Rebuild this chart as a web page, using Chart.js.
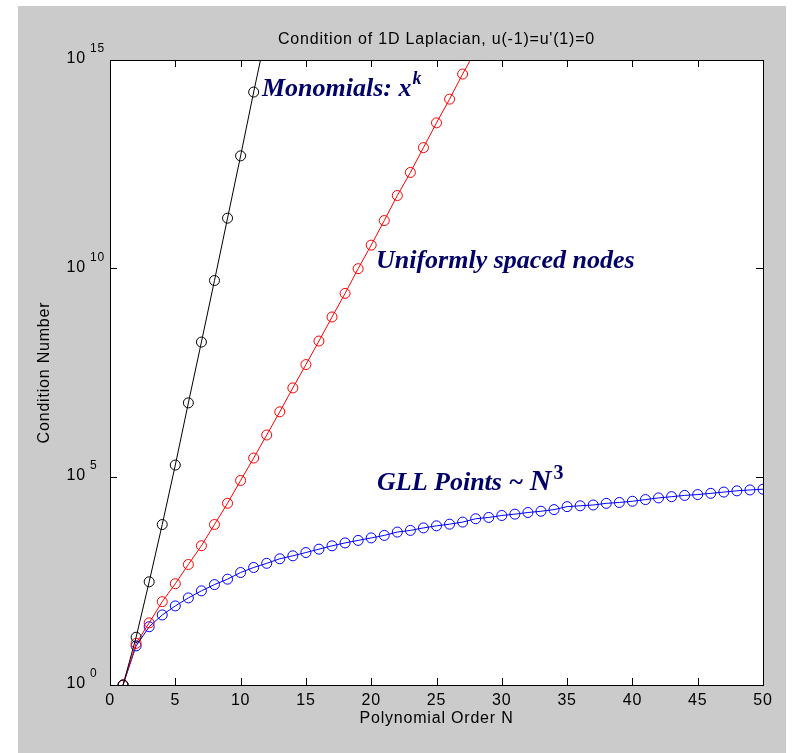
<!DOCTYPE html>
<html>
<head>
<meta charset="utf-8">
<title>Condition of 1D Laplacian</title>
<script src="https://cdn.jsdelivr.net/npm/chart.js@4/dist/chart.umd.min.js"></script>
<style>
    html, body { margin: 0; padding: 0; background: #ffffff; }
    #wrap { width: 793px; height: 753px; position: relative; }
</style>
</head>
<body>
<div id="wrap"><canvas id="condChart"></canvas></div>
<script>
// Polynomial order N for each curve
var monoN = [1, 2, 3, 4, 5, 6, 7, 8, 9, 10, 11, 12];
var uniformN = [1, 2, 3, 4, 5, 6, 7, 8, 9, 10, 11, 12, 13, 14, 15, 16, 17, 18, 19, 20,
    21, 22, 23, 24, 25, 26, 27, 28];
var gllN = [1, 2, 3, 4, 5, 6, 7, 8, 9, 10, 11, 12, 13, 14, 15, 16, 17, 18, 19, 20,
    21, 22, 23, 24, 25, 26, 27, 28, 29, 30, 31, 32, 33, 34, 35, 36, 37, 38, 39, 40,
    41, 42, 43, 44, 45, 46, 47, 48, 49, 50];

// Condition numbers
var monoCond = [1, 14, 3.0e2, 7.1e3, 1.9e5, 5.9e6, 1.7e8, 5.1e9, 1.6e11, 5.0e12, 1.7e14, 5.0e15];
var uniformCond = [1, 10, 31, 1.0e2, 2.7e2, 7.8e2, 2.2e3, 7.1e3, 2.3e4, 8.1e4, 2.8e5, 1.0e6,
    3.6e6, 1.35e7, 4.9e7, 1.8e8, 6.8e8, 2.5e9, 9.8e9, 3.6e10, 1.4e11, 5.6e11, 2.0e12,
    7.9e12, 3.1e13, 1.15e14, 4.6e14, 1.7e15];
var gllCond = [1, 8.7, 25, 48, 79, 123, 182, 257, 347, 501, 661, 832, 1070, 1260, 1510,
    1820, 2190, 2570, 2950, 3390, 3890, 4680, 5130, 5890, 6610, 7240, 8130, 9770,
    1.05e4, 1.17e4, 1.26e4, 1.38e4, 1.48e4, 1.62e4, 1.91e4, 2.0e4, 2.09e4, 2.29e4,
    2.4e4, 2.57e4, 2.82e4, 3.09e4, 3.31e4, 3.55e4, 3.72e4, 3.98e4, 4.27e4, 4.57e4,
    4.8e4, 5.0e4];

// Axis ticks
var xTicks = [0, 5, 10, 15, 20, 25, 30, 35, 40, 45, 50];
var yTicks = [1, 1e5, 1e10, 1e15];
var yTickExp = ['0', '5', '10', '15'];

function toPoints(xs, ys) {
    var pts = [];
    for (var i = 0; i < xs.length; i++) {
        pts.push({ x: xs[i], y: ys[i] });
    }
    return pts;
}

function series(xs, ys, color) {
    return {
        data: toPoints(xs, ys),
        borderColor: color,
        borderWidth: 1,
        pointRadius: 5,
        pointHoverRadius: 5,
        pointBorderWidth: 1,
        pointBorderColor: color,
        pointBackgroundColor: 'rgba(0,0,0,0)',
        tension: 0,
        fill: false
    };
}

var labelFont = '16px "Liberation Sans", Arial, sans-serif';
var noteColor = '#000068';

// Figure background, white axes, box, inward ticks, labels and notes
var matlabAxes = {
    id: 'matlabAxes',
    beforeDraw: function (chart) {
        var ctx = chart.ctx;
        var a = chart.chartArea;
        ctx.save();
        ctx.fillStyle = '#ffffff';
        ctx.fillRect(0, 0, chart.width, chart.height);
        ctx.fillStyle = '#cbcbcb';
        ctx.fillRect(18, 6, 768, chart.height - 6);
        ctx.fillStyle = '#ffffff';
        ctx.fillRect(a.left, a.top, a.right - a.left, a.bottom - a.top);
        ctx.restore();
    },
    afterDraw: function (chart) {
        var ctx = chart.ctx;
        var a = chart.chartArea;
        var xs = chart.scales.x;
        var ys = chart.scales.y;
        var tick = 7;
        ctx.save();
        ctx.strokeStyle = '#000000';
        ctx.lineWidth = 1;
        ctx.strokeRect(Math.round(a.left) + 0.5, Math.round(a.top) + 0.5,
            Math.round(a.right - a.left), Math.round(a.bottom - a.top));

        ctx.beginPath();
        xTicks.forEach(function (v) {
            var px = Math.round(xs.getPixelForValue(v)) + 0.5;
            ctx.moveTo(px, a.bottom); ctx.lineTo(px, a.bottom - tick);
            ctx.moveTo(px, a.top); ctx.lineTo(px, a.top + tick);
        });
        yTicks.forEach(function (v) {
            var py = Math.round(ys.getPixelForValue(v)) + 0.5;
            ctx.moveTo(a.left, py); ctx.lineTo(a.left + tick, py);
            ctx.moveTo(a.right, py); ctx.lineTo(a.right - tick, py);
        });
        ctx.stroke();

        // tick labels
        ctx.fillStyle = '#000000';
        ctx.font = labelFont;
        ctx.letterSpacing = '0.8px';
        ctx.textAlign = 'center';
        ctx.textBaseline = 'middle';
        xTicks.forEach(function (v) {
            ctx.fillText(String(v), xs.getPixelForValue(v), a.bottom + 16);
        });
        yTicks.forEach(function (v, i) {
            var py = ys.getPixelForValue(v);
            ctx.font = labelFont;
            ctx.textAlign = 'right';
            ctx.fillText('10', 86, py - 1);
            ctx.font = '12px "Liberation Sans", Arial, sans-serif';
            ctx.textAlign = 'left';
            ctx.fillText(yTickExp[i], 90, py - 11);
        });

        // title and axis titles
        ctx.font = labelFont;
        ctx.textAlign = 'center';
        ctx.fillText("Condition of 1D Laplacian, u(-1)=u'(1)=0", (a.left + a.right) / 2, 40);
        ctx.fillText('Polynomial Order N', (a.left + a.right) / 2, a.bottom + 34);
        ctx.save();
        ctx.translate(45, (a.top + a.bottom) / 2);
        ctx.rotate(-Math.PI / 2);
        ctx.fillText('Condition Number', 0, 0);
        ctx.restore();
        ctx.letterSpacing = '0px';

        // curve notes
        ctx.fillStyle = noteColor;
        ctx.textAlign = 'left';
        ctx.textBaseline = 'alphabetic';
        var serif = '"Liberation Serif", "Times New Roman", serif';
        ctx.font = 'italic bold 26px ' + serif;
        var s = 'Monomials: x';
        ctx.fillText(s, 262, 96);
        var w = ctx.measureText(s).width;
        ctx.font = 'italic bold 18px ' + serif;
        ctx.fillText('k', 262 + w + 1, 84);

        ctx.font = 'italic bold 26px ' + serif;
        ctx.fillText('Uniformly spaced nodes', 376, 268);

        s = 'GLL Points ~ ';
        ctx.fillText(s, 377, 490);
        w = ctx.measureText(s).width;
        ctx.font = 'italic bold 30px ' + serif;
        ctx.fillText('N', 377 + w, 490);
        var wn = ctx.measureText('N').width;
        ctx.font = 'bold 20px ' + serif;
        ctx.fillText('3', 377 + w + wn + 2, 479);
        ctx.restore();
    }
};

var ctx = document.getElementById('condChart').getContext('2d');
var condChart = new Chart(ctx, {
    type: 'line',
    data: {
        datasets: [
            series(monoN, monoCond, '#000000'),
            series(uniformN, uniformCond, '#ff0000'),
            series(gllN, gllCond, '#0000ff')
        ]
    },
    options: {
        responsive: true,
        maintainAspectRatio: false,
        animation: false,
        layout: {
            padding: { left: 110, top: 60, right: 30, bottom: 68 }
        },
        plugins: {
            legend: { display: false },
            tooltip: { enabled: false },
            title: { display: false }
        },
        scales: {
            x: { type: 'linear', min: 0, max: 50, display: false },
            y: { type: 'logarithmic', min: 1, max: 1e15, display: false }
        }
    },
    plugins: [matlabAxes]
});
</script>
</body>
</html>
